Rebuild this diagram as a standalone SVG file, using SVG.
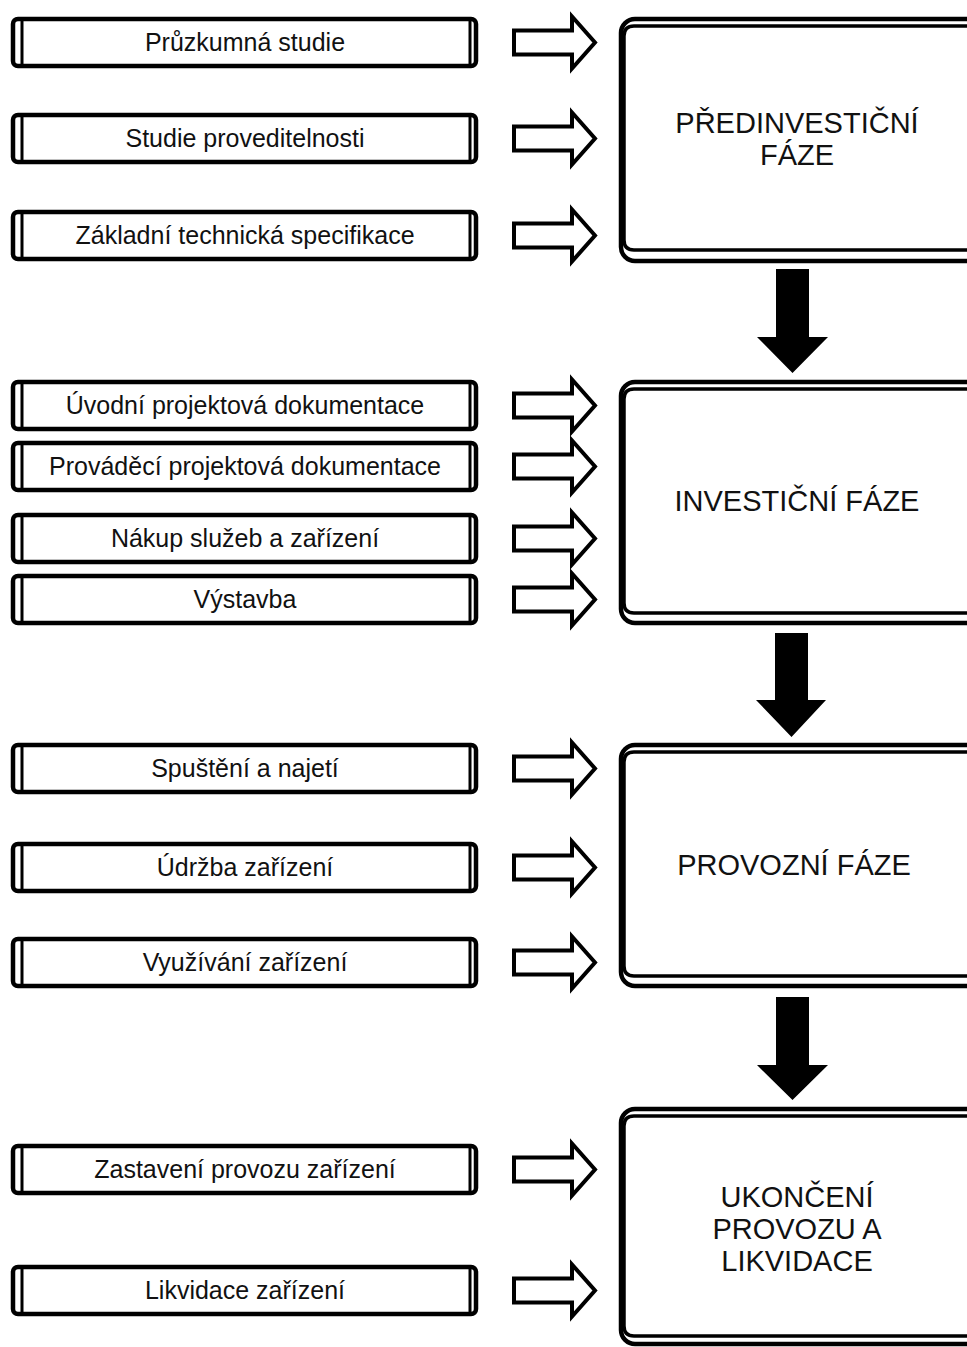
<svg xmlns="http://www.w3.org/2000/svg" width="967" height="1347" viewBox="0 0 967 1347">
<style>
.bg{fill:#fff}
.sb rect{fill:#fff;stroke:#000;stroke-width:4.5}
.sb line{stroke:#000;stroke-width:3}
.sb text{font-family:"Liberation Sans",Arial,sans-serif;font-size:25px;fill:#111;text-anchor:middle}
.ph .o{fill:#fff;stroke:#000;stroke-width:4.5}
.ph .i{fill:none;stroke:#000;stroke-width:3.5}
.ph text{font-family:"Liberation Sans",Arial,sans-serif;font-size:29px;fill:#111;text-anchor:middle}
.ha{fill:#fff;stroke:#000;stroke-width:4;stroke-linejoin:miter}
.ba{fill:#000}
</style>
<rect class="bg" x="0" y="0" width="967" height="1347"/>

<!-- Step boxes -->
<g id="s1" class="sb"><rect x="13" y="19" width="463" height="47" rx="5"/><line x1="22" y1="19" x2="22" y2="66"/><line x1="470" y1="19" x2="470" y2="66"/><text x="245" y="51">Průzkumná studie</text></g>
<g id="s2" class="sb"><rect x="13" y="115" width="463" height="47" rx="5"/><line x1="22" y1="115" x2="22" y2="162"/><line x1="470" y1="115" x2="470" y2="162"/><text x="245" y="147">Studie proveditelnosti</text></g>
<g id="s3" class="sb"><rect x="13" y="212" width="463" height="47" rx="5"/><line x1="22" y1="212" x2="22" y2="259"/><line x1="470" y1="212" x2="470" y2="259"/><text x="245" y="244">Základní technická specifikace</text></g>

<g id="s4" class="sb"><rect x="13" y="382" width="463" height="47" rx="5"/><line x1="22" y1="382" x2="22" y2="429"/><line x1="470" y1="382" x2="470" y2="429"/><text x="245" y="414">Úvodní projektová dokumentace</text></g>
<g id="s5" class="sb"><rect x="13" y="443" width="463" height="47" rx="5"/><line x1="22" y1="443" x2="22" y2="490"/><line x1="470" y1="443" x2="470" y2="490"/><text x="245" y="475">Prováděcí projektová dokumentace</text></g>
<g id="s6" class="sb"><rect x="13" y="515" width="463" height="47" rx="5"/><line x1="22" y1="515" x2="22" y2="562"/><line x1="470" y1="515" x2="470" y2="562"/><text x="245" y="547">Nákup služeb a zařízení</text></g>
<g id="s7" class="sb"><rect x="13" y="576" width="463" height="47" rx="5"/><line x1="22" y1="576" x2="22" y2="623"/><line x1="470" y1="576" x2="470" y2="623"/><text x="245" y="608">Výstavba</text></g>

<g id="s8" class="sb"><rect x="13" y="745" width="463" height="47" rx="5"/><line x1="22" y1="745" x2="22" y2="792"/><line x1="470" y1="745" x2="470" y2="792"/><text x="245" y="777">Spuštění a najetí</text></g>
<g id="s9" class="sb"><rect x="13" y="844" width="463" height="47" rx="5"/><line x1="22" y1="844" x2="22" y2="891"/><line x1="470" y1="844" x2="470" y2="891"/><text x="245" y="876">Údržba zařízení</text></g>
<g id="s10" class="sb"><rect x="13" y="939" width="463" height="47" rx="5"/><line x1="22" y1="939" x2="22" y2="986"/><line x1="470" y1="939" x2="470" y2="986"/><text x="245" y="971">Využívání zařízení</text></g>

<g id="s11" class="sb"><rect x="13" y="1146" width="463" height="47" rx="5"/><line x1="22" y1="1146" x2="22" y2="1193"/><line x1="470" y1="1146" x2="470" y2="1193"/><text x="245" y="1178">Zastavení provozu zařízení</text></g>
<g id="s12" class="sb"><rect x="13" y="1267" width="463" height="47" rx="5"/><line x1="22" y1="1267" x2="22" y2="1314"/><line x1="470" y1="1267" x2="470" y2="1314"/><text x="245" y="1299">Likvidace zařízení</text></g>

<!-- Phase boxes -->
<g id="p1" class="ph">
<rect class="o" x="621" y="19" width="400" height="242" rx="14"/>
<path class="i" d="M967 26H634Q624 26 624 36V240Q624 250 634 250H967"/>
<text x="797" y="133">PŘEDINVESTIČNÍ</text><text x="797" y="165">FÁZE</text>
</g>
<g id="p2" class="ph">
<rect class="o" x="621" y="382" width="400" height="241" rx="14"/>
<path class="i" d="M967 389H634Q624 389 624 399V603Q624 613 634 613H967"/>
<text x="797" y="511">INVESTIČNÍ FÁZE</text>
</g>
<g id="p3" class="ph">
<rect class="o" x="621" y="745" width="400" height="241" rx="14"/>
<path class="i" d="M967 752H634Q624 752 624 762V966Q624 976 634 976H967"/>
<text x="794" y="875">PROVOZNÍ FÁZE</text>
</g>
<g id="p4" class="ph">
<rect class="o" x="621" y="1109" width="400" height="235" rx="14"/>
<path class="i" d="M967 1116H634Q624 1116 624 1126V1326Q624 1336 634 1336H967"/>
<text x="797" y="1207">UKONČENÍ</text><text x="797" y="1239">PROVOZU A</text><text x="797" y="1271">LIKVIDACE</text>
</g>

<!-- Connectors -->
<g id="connectors">
<polygon class="ha" points="514,30.5 572,30.5 572,16.5 595,42.5 572,68.5 572,54.5 514,54.5"/>
<polygon class="ha" points="514,126.5 572,126.5 572,112.5 595,138.5 572,164.5 572,150.5 514,150.5"/>
<polygon class="ha" points="514,223.5 572,223.5 572,209.5 595,235.5 572,261.5 572,247.5 514,247.5"/>
<polygon class="ha" points="514,393.5 572,393.5 572,379.5 595,405.5 572,431.5 572,417.5 514,417.5"/>
<polygon class="ha" points="514,454.5 572,454.5 572,440.5 595,466.5 572,492.5 572,478.5 514,478.5"/>
<polygon class="ha" points="514,526.5 572,526.5 572,512.5 595,538.5 572,564.5 572,550.5 514,550.5"/>
<polygon class="ha" points="514,587.5 572,587.5 572,573.5 595,599.5 572,625.5 572,611.5 514,611.5"/>
<polygon class="ha" points="514,756.5 572,756.5 572,742.5 595,768.5 572,794.5 572,780.5 514,780.5"/>
<polygon class="ha" points="514,855.5 572,855.5 572,841.5 595,867.5 572,893.5 572,879.5 514,879.5"/>
<polygon class="ha" points="514,950.5 572,950.5 572,936.5 595,962.5 572,988.5 572,974.5 514,974.5"/>
<polygon class="ha" points="514,1157.5 572,1157.5 572,1143.5 595,1169.5 572,1195.5 572,1181.5 514,1181.5"/>
<polygon class="ha" points="514,1278.5 572,1278.5 572,1264.5 595,1290.5 572,1316.5 572,1302.5 514,1302.5"/>
<polygon class="ba" points="776,269 809,269 809,337 828,337 792.5,373 757,337 776,337"/>
<polygon class="ba" points="775,633 808,633 808,700 826,700 791.5,737 756,700 775,700"/>
<polygon class="ba" points="776,997 809,997 809,1065 828,1065 792.5,1100 757,1065 776,1065"/>
</g>
</svg>
